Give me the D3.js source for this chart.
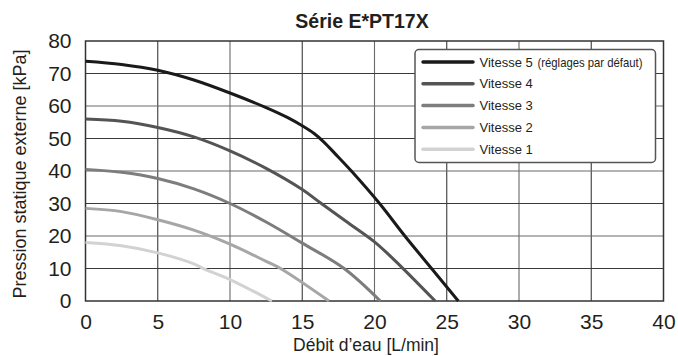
<!DOCTYPE html>
<html><head><meta charset="utf-8">
<script src="https://cdn.jsdelivr.net/npm/d3@7"></script>
<style>body{margin:0;background:#fff}svg{display:block}text{font-family:"Liberation Sans",Arial,sans-serif;fill:#231f20}</style>
</head><body><svg id="c" width="678" height="356"></svg>
<script>
const title = "Série E*PT17X";
const xTitle = "Débit d’eau [L/min]";
const yTitle = "Pression statique externe [kPa]";
const xTicks = [0,5,10,15,20,25,30,35,40];
const yTicks = [0,10,20,30,40,50,60,70,80];
const seriesNames = ["Vitesse 5", "Vitesse 4", "Vitesse 3", "Vitesse 2", "Vitesse 1"];
const legendNote = "(réglages par défaut)";
const v5 = [[0,73.8],[2.5,72.8],[5,71],[7.5,68],[10,64],[12.5,59.5],[14,56.4],[15,53.9],[15.8,51.6],[16.5,48.9],[17.3,45.2],[18.4,40],[20.35,30],[22.1,20],[23.95,10],[25.8,0]];
const v4 = [[0,56],[2.5,55.3],[5,53.4],[7.5,50.5],[10,46.2],[12.5,40.8],[15,34.3],[16.2,30.4],[18,24.6],[20,18.2],[21,14.2],[22,9.9],[24.2,0]];
const v3 = [[0,40.5],[2.5,39.6],[5,37.7],[7.5,34.5],[10,30],[12.5,24.3],[15,17.8],[17.9,10],[20.4,0]];
const v2 = [[0,28.5],[2.5,27.5],[5,25],[7.5,21.8],[10,17.5],[12.5,12.2],[13.5,10],[16.85,0]];
const v1 = [[0,18],[2.5,17],[5,14.8],[7.5,11.4],[8.2,9.9],[10,6.6],[12.9,0]];
const seriesData = [v5, v4, v3, v2, v1];
const colors = ["#1a1a1a", "#545454", "#7d7d7d", "#a6a6a6", "#d2d2d2"];

const svg = d3.select("#c");
const x = d3.scaleLinear().domain([0,40]).range([85.5,663.5]);
const y = d3.scaleLinear().domain([0,80]).range([301,41]);

// grid
svg.append("g").selectAll("line").data(xTicks.slice(1,-1)).join("line")
  .attr("x1",d=>x(d)).attr("x2",d=>x(d)).attr("y1",y(0)).attr("y2",y(80))
  .attr("stroke",(d,i)=>i%2?"#6a6a6a":"#3a3a3a").attr("stroke-width",1.1);
svg.append("g").selectAll("line").data(yTicks.slice(1,-1)).join("line")
  .attr("x1",x(0)).attr("x2",x(40)).attr("y1",d=>y(d)).attr("y2",d=>y(d))
  .attr("stroke",(d,i)=>i%2?"#6a6a6a":"#3a3a3a").attr("stroke-width",1.1);
svg.append("rect").attr("x",x(0)).attr("y",y(80)).attr("width",x(40)-x(0)).attr("height",y(0)-y(80))
  .attr("fill","none").attr("stroke","#333").attr("stroke-width",1.5);

// axes
const xa = svg.append("g").attr("transform",`translate(0,${y(0)})`)
  .call(d3.axisBottom(x).tickValues(xTicks).tickSize(0).tickPadding(13));
const ya = svg.append("g").attr("transform",`translate(${x(0)},0)`)
  .call(d3.axisLeft(y).tickValues(yTicks).tickSize(0).tickPadding(14));
[xa,ya].forEach(a=>{a.select(".domain").remove();a.selectAll("text").attr("font-size",21).style("fill","#231f20").attr("font-family","Liberation Sans, Arial, sans-serif");});

// curves
const line = d3.line().x(d=>x(d[0])).y(d=>y(d[1])).curve(d3.curveCatmullRom.alpha(0.5));
svg.append("g").selectAll("path").data(seriesData.slice().reverse()).join("path")
  .attr("d",line).attr("fill","none")
  .attr("stroke",(d,i)=>colors[colors.length-1-i]).attr("stroke-width",3);

// titles
svg.append("text").attr("x",362).attr("y",28).attr("text-anchor","middle")
  .attr("font-size",19.5).attr("font-weight","bold").text(title);
svg.append("text").attr("x",366).attr("y",351).attr("text-anchor","middle")
  .attr("font-size",17.5).text(xTitle);
svg.append("text").attr("transform","translate(25.5,174) rotate(-90)").attr("text-anchor","middle")
  .attr("font-size",18).text(yTitle);

// legend
const lg = svg.append("g");
lg.append("rect").attr("x",415).attr("y",49.5).attr("width",240.5).attr("height",113)
  .attr("rx",4).attr("fill","#fff").attr("stroke","#555").attr("stroke-width",1.5);
const rows = lg.selectAll("g.r").data(seriesNames).join("g").attr("class","r")
  .attr("transform",(d,i)=>`translate(0,${62+i*21.8})`);
rows.append("line").attr("x1",423).attr("x2",473).attr("stroke",(d,i)=>colors[i])
  .attr("stroke-width",3.5).attr("stroke-linecap","round");
rows.append("text").attr("x",479.5).attr("y",4.5).attr("font-size",13).text(d=>d);
lg.append("text").attr("x",537.5).attr("y",62+4.5).attr("font-size",13)
  .attr("textLength",105).attr("lengthAdjust","spacingAndGlyphs").text(legendNote);
</script></body></html>
